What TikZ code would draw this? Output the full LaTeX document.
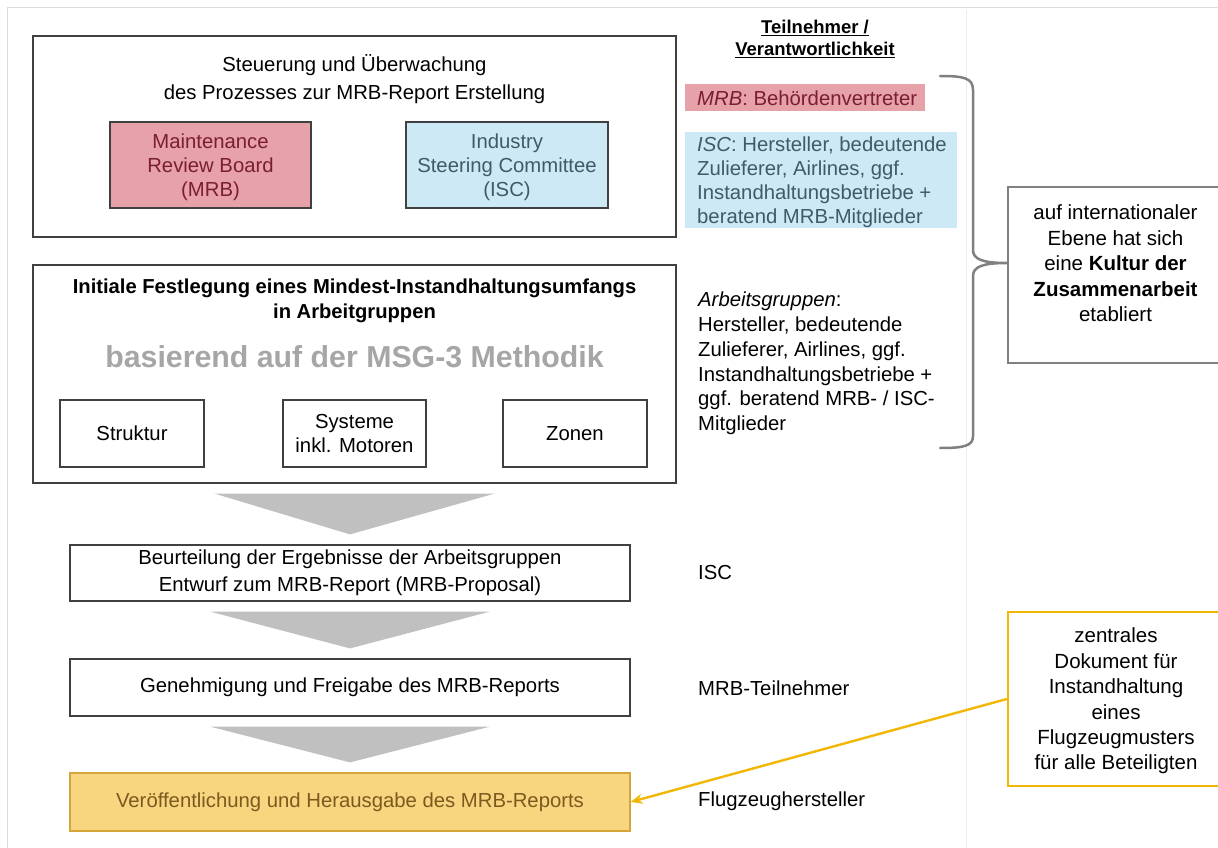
\documentclass[tikz,border=0pt]{standalone}
\usepackage{fontspec}
\setmainfont{Liberation Sans}
\usetikzlibrary{calc,arrows.meta}

\definecolor{mrbfill}{HTML}{E6A1A9}
\definecolor{mrbtext}{HTML}{7B1E2E}
\definecolor{iscfill}{HTML}{CDE9F5}
\definecolor{isctext}{HTML}{3F5B6B}
\definecolor{pubfill}{HTML}{F8D680}
\definecolor{publine}{HTML}{D4A53A}
\definecolor{pubtext}{HTML}{7A5A1E}
\definecolor{accent}{HTML}{F2B705}
\definecolor{bracegray}{HTML}{808080}
\definecolor{chevgray}{HTML}{C0C0C0}
\definecolor{framegray}{HTML}{DCDCDC}

\newcommand\bodyfs{\fontsize{20.3}{24}\selectfont}

\tikzset{
  box/.style={draw=black!75, line width=1.2pt, inner sep=0pt, align=center, font=\bodyfs},
  grpbox/.style={box, fill=white},
  mrbbox/.style={box, fill=mrbfill, text=mrbtext},
  iscbox/.style={box, fill=iscfill, text=isctext},
  pubbox/.style={box, draw=publine, fill=pubfill, text=pubtext},
  plain/.style={inner sep=0pt, font=\bodyfs},
  lefttext/.style={plain, align=left, anchor=north west},
  chevron/.style={fill=chevgray, draw=none},
  sidebox/.style={draw=bracegray, line width=2.5pt, inner sep=0pt},
  notebox/.style={draw=accent, line width=2.5pt, inner sep=0pt},
  bracestyle/.style={draw=bracegray, line width=2.5pt, line cap=round, line join=round},
  pointer/.style={draw=accent, line width=2.4pt, -{Stealth[length=12pt,width=10pt]}}
}

\begin{document}
\begin{tikzpicture}[x=1pt, y=-1pt]
\useasboundingbox (0,0) rectangle (1218,848);
\clip (0,0) rectangle (1218,848);

% faint page frame
\draw[framegray, line width=1pt] (7,848) -- (7,8) -- (1218,8);
\draw[framegray!50, line width=0.8pt] (966,10) -- (966,848);

% steering block
\node[grpbox, minimum width=643pt, minimum height=201pt] (steer) at (354.5,136.5) {};
\node[plain, align=center, font=\fontsize{20.3}{28}\selectfont] (steertitle) at (354.5,79)
  {Steuerung und Überwachung\\des Prozesses zur MRB-Report Erstellung};
\node[mrbbox, minimum width=201pt, minimum height=86pt] (mrb) at (210.5,165) {};
\node[plain, align=center, text=mrbtext] (mrbtxt) at (210.5,167.5)
  {Maintenance\\Review Board\\(MRB)};
\node[iscbox, minimum width=202pt, minimum height=86pt] (isc) at (507,165) {};
\node[plain, align=center, text=isctext] (isctext) at (507,167.5)
  {Industry\\Steering Committee\\(ISC)};

% working groups block
\node[grpbox, minimum width=643pt, minimum height=218pt] (wg) at (354.5,374) {};
\node[plain, align=center, font=\fontsize{20.2}{25}\selectfont\bfseries] (wgtitle) at (354.5,301)
  {Initiale Festlegung eines Mindest-Instandhaltungsumfangs\\in Arbeitgruppen};
\node[plain, text=black!35, font=\fontsize{30.3}{34}\selectfont\bfseries] (msg) at (354.5,357)
  {basierend auf der MSG-3 Methodik};
\node[grpbox, minimum width=144pt, minimum height=67pt] (struk) at (132,433.5) {Struktur};
\node[grpbox, minimum width=143pt, minimum height=67pt] (sys) at (354.5,433.5) {Systeme\\inkl. Motoren};
\node[grpbox, minimum width=144pt, minimum height=67pt] (zon) at (575,433.5) {Zonen};

% process steps
\node[grpbox, minimum width=560pt, minimum height=56pt, font=\fontsize{20.3}{27}\selectfont] (eval) at (350,573)
  {Beurteilung der Ergebnisse der Arbeitsgruppen\\Entwurf zum MRB-Report (MRB-Proposal)};
\node[grpbox, minimum width=560pt, minimum height=57pt] (appr) at (350,687.5)
  {Genehmigung und Freigabe des MRB-Reports};
\node[pubbox, minimum width=560pt, minimum height=58pt] (pub) at (350,802)
  {Veröffentlichung und Herausgabe des MRB-Reports};

% downward chevrons between the steps
\foreach \a/\b in {wg/eval, eval/appr, appr/pub}{
  \path[chevron] ($(\a.south)+(-140,10)$) -- ($(\a.south)+(140,10)$) -- ($(\b.north)+(0,-10)$) -- cycle;
}

% participants column
\node[plain, align=center, font=\fontsize{18.5}{22}\selectfont\bfseries] (head) at (815,39)
  {\underline{Teilnehmer /}\\\underline{Verantwortlichkeit}};
\node[draw=none, fill=mrbfill, minimum width=240pt, minimum height=27pt, inner sep=0pt] (mrblab) at (805,97.5) {};
\node[plain, anchor=west, text=mrbtext] (mrbrole) at (697,98) {\textit{MRB}: Behördenvertreter};
\node[draw=none, fill=iscfill, minimum width=272pt, minimum height=96pt, inner sep=0pt] (isclab) at (821,180) {};
\node[lefttext, text=isctext, anchor=west] (iscrole) at (697,182.5)
  {\textit{ISC}: Hersteller, bedeutende\\Zulieferer, Airlines, ggf.\\Instandhaltungsbetriebe +\\beratend MRB-Mitglieder};
\node[lefttext, anchor=west, font=\fontsize{20.3}{24.8}\selectfont] (arbrole) at (698,363.5)
  {\textit{Arbeitsgruppen}:\\Hersteller, bedeutende\\Zulieferer, Airlines, ggf.\\Instandhaltungsbetriebe +\\ggf. beratend MRB- / ISC-\\Mitglieder};
\node[plain, anchor=west] (iscresp) at (698,573) {ISC};
\node[plain, anchor=west] (mrbresp) at (698,688) {MRB-Teilnehmer};
\node[plain, anchor=west] (oemresp) at (698,801) {Flugzeughersteller};

% cooperation note and brace
\node[sidebox, minimum width=212pt, minimum height=176pt] (kultur) at (1114,275) {};
\node[plain, align=center, font=\fontsize{20.5}{25.5}\selectfont] (kulturtxt) at (1115.5,263.5)
  {auf internationaler\\Ebene hat sich\\eine \textbf{Kultur der}\\\textbf{Zusammenarbeit}\\etabliert};
\coordinate (btop) at (940,76);
\coordinate (bbot) at (940,448);
\draw[bracestyle] (btop) .. controls (964,76) and (973,78) .. (973,90) -- (973,250)
  .. controls (973,259) and (982,263) .. (kultur.west |- 0,263)
  .. controls (982,263) and (973,267) .. (973,276) -- (973,436)
  .. controls (973,446) and (964,448) .. (bbot);

% central document note
\node[notebox, minimum width=212pt, minimum height=174pt] (zent) at (1114,699) {};
\node[plain, align=center, font=\fontsize{20.5}{25.4}\selectfont] (zenttxt) at (1116,701)
  {zentrales\\Dokument für\\Instandhaltung\\eines\\Flugzeugmusters\\für alle Beteiligten};
\draw[pointer] (zent.west) -- (pub.east);

\end{tikzpicture}
\end{document}
